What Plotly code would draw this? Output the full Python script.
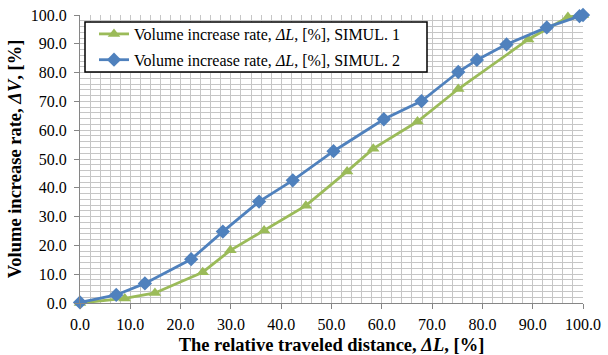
import plotly.graph_objects as go

x_sim1 = [0, 8.9, 14.9, 24.4, 29.9, 36.6, 44.9, 53.1, 58.3, 67.1, 75.2, 89.1, 97.0, 100]
y_sim1 = [0, 1.6, 3.5, 10.7, 18.3, 25.2, 33.8, 45.7, 53.6, 63.0, 74.3, 91.5, 99.3, 100]
x_sim2 = [0, 7.2, 12.9, 22.1, 28.4, 35.6, 42.3, 50.4, 60.4, 67.9, 75.2, 78.9, 84.8, 92.8, 99.3, 100]
y_sim2 = [0.2, 2.8, 6.8, 15.2, 24.8, 35.2, 42.6, 52.7, 63.8, 70.1, 80.2, 84.4, 89.8, 95.7, 99.6, 100]
name_sim1 = "Volume increase rate, <i>ΔL</i>, [%], SIMUL. 1"
name_sim2 = "Volume increase rate, <i>ΔL</i>, [%], SIMUL. 2"
tick_vals = [0, 10, 20, 30, 40, 50, 60, 70, 80, 90, 100]
tick_text = ["0.0", "10.0", "20.0", "30.0", "40.0", "50.0", "60.0", "70.0", "80.0", "90.0", "100.0"]

GREEN = "#9BBB59"
BLUE = "#4F81BD"
GRID = "#C6C6C6"
FONT = "Liberation Serif, Times New Roman, serif"

W, H = 608, 355
ML, MR, MT, MB = 80, 25, 15, 52
PW, PH = W - ML - MR, H - MT - MB


def px_x(p):
    return (p - ML) / PW


def px_y(p):
    return (H - MB - p) / PH


fig = go.Figure()
fig.add_trace(go.Scatter(x=x_sim1, y=y_sim1, mode="lines+markers", name=name_sim1,
                         legendgroup="g1",
                         line=dict(color=GREEN, width=2.8),
                         marker=dict(symbol="triangle-up", size=11, color=GREEN),
                         cliponaxis=False))
fig.add_trace(go.Scatter(x=x_sim2, y=y_sim2, mode="lines+markers", name=name_sim2,
                         legendgroup="g2",
                         line=dict(color=BLUE, width=2.8),
                         marker=dict(symbol="diamond", size=11, color=BLUE),
                         cliponaxis=False))

axis_common = dict(
    range=[0, 100], tickvals=tick_vals, ticktext=tick_text,
    showgrid=True, gridcolor=GRID, gridwidth=1,
    minor=dict(dtick=2, showgrid=True, gridcolor=GRID, gridwidth=1),
    showline=True, linecolor="#868686", linewidth=1,
    ticks="outside", ticklen=5, tickcolor="#868686",
    tickfont=dict(family=FONT, size=16, color="black"),
    zeroline=False, automargin=False,
)
fig.update_xaxes(**axis_common, ticklabelstandoff=2,
                 title=dict(text="<b>The relative traveled distance, <i>ΔL</i>, [%]</b>",
                            font=dict(family=FONT, size=18.5, color="black"), standoff=7))
fig.update_yaxes(**axis_common, ticklabelstandoff=4,
                 title=dict(text="<b>Volume increase rate, <i>ΔV</i>, [%]</b>",
                            font=dict(family=FONT, size=18.5, color="black"), standoff=4))

fig.add_shape(type="rect", xref="paper", yref="paper",
              x0=px_x(85), x1=px_x(427), y0=px_y(72), y1=px_y(22),
              line=dict(color="black", width=1.5), fillcolor="white", layer="above")

fig.update_layout(
    width=W, height=H,
    margin=dict(l=ML, r=MR, t=MT, b=MB, autoexpand=False),
    font=dict(family=FONT, color="black"),
    plot_bgcolor="white", paper_bgcolor="white",
    legend=dict(x=px_x(94), y=px_y(17), xanchor="left", yanchor="top",
                bgcolor="rgba(0,0,0,0)", borderwidth=0,
                font=dict(family=FONT, size=16, color="black"),
                tracegroupgap=2, itemwidth=30),
    showlegend=True,
)

fig.write_html("out.html")
